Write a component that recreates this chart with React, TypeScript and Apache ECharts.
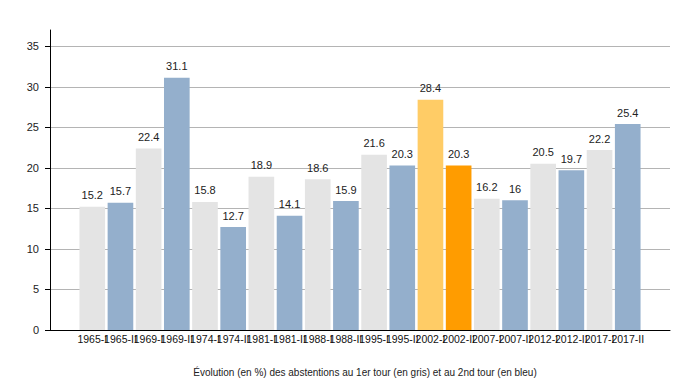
import React, { useEffect, useRef } from "react";
import * as echarts from "echarts";

const categories = [
  "1965-I", "1965-II", "1969-I", "1969-II", "1974-I", "1974-II", "1981-I", "1981-II",
  "1988-I", "1988-II", "1995-I", "1995-II", "2002-I", "2002-II", "2007-I", "2007-II",
  "2012-I", "2012-II", "2017-I", "2017-II",
];
const values = [15.2, 15.7, 22.4, 31.1, 15.8, 12.7, 18.9, 14.1, 18.6, 15.9, 21.6, 20.3, 28.4, 20.3, 16.2, 16, 20.5, 19.7, 22.2, 25.4];
const barColors = [
  "#e4e4e4", "#94afcc", "#e4e4e4", "#94afcc", "#e4e4e4", "#94afcc", "#e4e4e4", "#94afcc",
  "#e4e4e4", "#94afcc", "#e4e4e4", "#94afcc", "#ffcc66", "#ff9c00", "#e4e4e4", "#94afcc",
  "#e4e4e4", "#94afcc", "#e4e4e4", "#94afcc",
];
const title = "Évolution (en %) des abstentions au 1er tour (en gris) et au 2nd tour (en bleu)";

export default function App() {
  const ref = useRef<HTMLDivElement>(null);
  useEffect(() => {
    if (!ref.current) return;
    const chart = echarts.init(ref.current, null, { renderer: "svg" });
    const cats = ["", ...categories, ""];
    const data = [
      null,
      ...values.map((v, i) => ({ value: v, itemStyle: { color: barColors[i] } })),
      null,
    ];
    const font = "'Liberation Sans', Arial, sans-serif";
    chart.setOption({
      animation: false,
      backgroundColor: "#ffffff",
      textStyle: { fontFamily: font },
      title: {
        text: title,
        left: 360,
        textAlign: "center",
        top: 362,
        textStyle: { fontSize: 10, fontWeight: "normal", color: "#222", fontFamily: font },
      },
      grid: { left: 50, right: 30, top: 30, bottom: 50, containLabel: false },
      xAxis: {
        type: "category",
        data: cats,
        boundaryGap: true,
        axisLine: { lineStyle: { color: "#000", width: 1 } },
        axisTick: { show: false },
        axisLabel: { interval: 0, fontSize: 10.5, color: "#111", margin: 3, fontFamily: font },
      },
      yAxis: {
        type: "value",
        min: 0,
        max: 37,
        interval: 5,
        axisLine: { show: true, lineStyle: { color: "#000", width: 1 } },
        axisTick: { show: true, length: 5, lineStyle: { color: "#000" } },
        axisLabel: { fontSize: 11, color: "#222", margin: 11, showMaxLabel: false, fontFamily: font },
        splitLine: {
          show: true,
          lineStyle: {
            color: ["#b4b4b4", "#b4b4b4", "#b4b4b4", "#b4b4b4", "#b4b4b4", "#b4b4b4", "#b4b4b4", "#b4b4b4", "rgba(0,0,0,0)"],
            width: 1,
          },
        },
      },
      series: [
        {
          type: "bar",
          data,
          barCategoryGap: "9%",
          label: {
            show: true,
            position: "top",
            distance: 6,
            fontSize: 11,
            color: "#222",
            fontFamily: font,
          },
        },
      ],
    });
    return () => chart.dispose();
  }, []);
  return <div ref={ref} style={{ width: 700, height: 380, position: "absolute", left: 0, top: 0 }} />;
}
